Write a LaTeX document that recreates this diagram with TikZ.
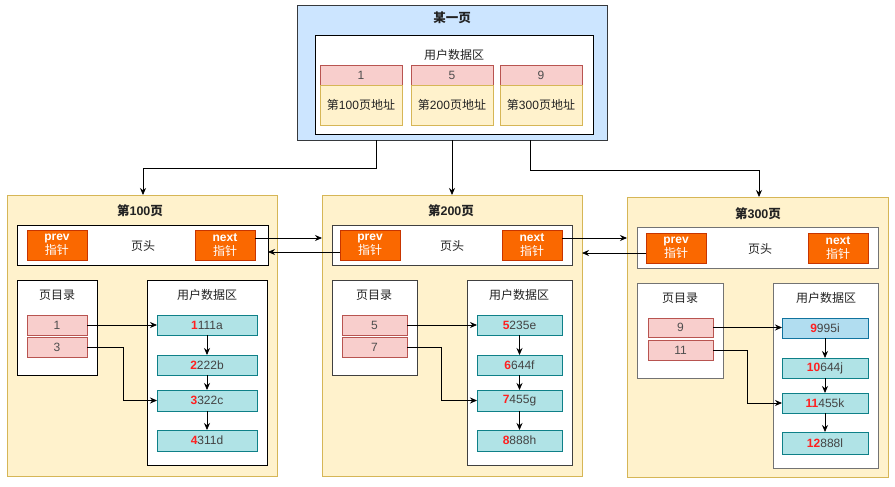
\documentclass[tikz,border=0pt]{standalone}
\usepackage{fontspec}
\setmainfont{Liberation Sans}
\newfontfamily\cjk{Noto Sans CJK SC}
\usetikzlibrary{arrows.meta,calc}
\definecolor{topfill}{HTML}{CCE5FF}
\definecolor{topdraw}{HTML}{36393D}
\definecolor{pagefill}{HTML}{FFF2CC}
\definecolor{pagedraw}{HTML}{D6B656}
\definecolor{pinkfill}{HTML}{F8CECC}
\definecolor{pinkdraw}{HTML}{B85450}
\definecolor{orangefill}{HTML}{FA6800}
\definecolor{orangedraw}{HTML}{C73500}
\definecolor{tealfill}{HTML}{B0E3E6}
\definecolor{tealdraw}{HTML}{0E8088}
\definecolor{bluefill}{HTML}{B1DDF0}
\definecolor{bluedraw}{HTML}{10739E}
\definecolor{txt}{HTML}{222222}
\definecolor{numred}{HTML}{FF2020}
\newcommand\bx[7]{\node[#6, anchor=north west, minimum width={(#4)-(#2)}, minimum height={(#5)-(#3)}] (#1) at (#2,#3) {#7};}
\newcommand\rec[2]{{\color{numred}\bfseries #1}#2}
\tikzset{
  base/.style={inner sep=0pt, outer sep=0pt, line width=0.8pt, text=txt, font=\fontsize{12}{14}\selectfont, align=center},
  topbox/.style={base, fill=topfill, draw=topdraw},
  pagebox/.style={base, fill=pagefill, draw=pagedraw},
  whitebox/.style={base, fill=white, draw=#1},
  whitebox/.default=black,
  pinkcell/.style={base, fill=pinkfill, draw=pinkdraw, text=txt!80},
  yelcell/.style={base, fill=pagefill, draw=pagedraw},
  ptr/.style={base, fill=orangefill, draw=orangedraw, text=white, font=\fontsize{12}{14}\selectfont},
  tealcell/.style={base, fill=tealfill, draw=tealdraw, text=txt!85},
  bluecell/.style={base, fill=bluefill, draw=bluedraw, text=txt!85},
  lbl/.style={inner sep=0pt, text=txt, font=\fontsize{12}{14}\selectfont\cjk},
  ttl/.style={inner sep=0pt, text=txt, font=\fontsize{12.5}{14}\selectfont\bfseries},
  arr/.style={line width=0.8pt, -{Stealth[length=7pt,width=6pt]}},
}
\begin{document}
\begin{tikzpicture}[x=1pt,y=-1pt]
\useasboundingbox (0,0) rectangle (895,487);
% top page
\bx{top}{297}{5}{607}{140}{topbox}{}
\node[ttl] at (452,18) {\cjk 某一页};
\bx{topin}{315}{35}{593}{134}{whitebox}{}
\node[lbl] at (454,55) {用户数据区};
\bx{k1}{320}{65}{402}{85}{pinkcell}{1}
\bx{a1}{320}{85}{402}{125}{yelcell}{{\cjk 第}100{\cjk 页地址}}
\bx{k5}{411}{65}{493}{85}{pinkcell}{5}
\bx{a5}{411}{85}{493}{125}{yelcell}{{\cjk 第}200{\cjk 页地址}}
\bx{k9}{500}{65}{582}{85}{pinkcell}{9}
\bx{a9}{500}{85}{582}{125}{yelcell}{{\cjk 第}300{\cjk 页地址}}

% page 100
\bx{p1}{7}{195}{277}{476}{pagebox}{}
\node[ttl] at (140,211) {{\cjk 第}100{\cjk 页}};
\bx{h1}{17}{225}{268}{265}{whitebox}{}
\node[lbl] at (143,246) {页头};
\bx{prev1}{27}{230}{87}{260}{ptr}{\textbf{prev}\\{\cjk 指针}}
\bx{next1}{195}{230}{255}{260}{ptr}{\textbf{next}\\{\cjk 指针}}
\bx{d1}{17}{280}{97}{375}{whitebox}{}
\node[lbl] at (57,295) {页目录};
\bx{e1a}{27}{315}{87}{335}{pinkcell}{1}
\bx{e1b}{27}{337}{87}{357}{pinkcell}{3}
\bx{u1}{147}{280}{267}{465}{whitebox}{}
\node[lbl] at (207,295) {用户数据区};
\bx{r1a}{157}{315}{257}{335}{tealcell}{\rec{1}{111a}}
\bx{r1b}{157}{355}{257}{375}{tealcell}{\rec{2}{222b}}
\bx{r1c}{157}{390}{257}{411}{tealcell}{\rec{3}{322c}}
\bx{r1d}{157}{430}{257}{451}{tealcell}{\rec{4}{311d}}

% page 200
\bx{p2}{322}{195}{582}{476}{pagebox}{}
\node[ttl] at (451,211) {{\cjk 第}200{\cjk 页}};
\bx{h2}{332}{225}{572}{265}{whitebox=black!75}{}
\node[lbl] at (452,246) {页头};
\bx{prev2}{340}{230}{400}{260}{ptr}{\textbf{prev}\\{\cjk 指针}}
\bx{next2}{502}{230}{562}{260}{ptr}{\textbf{next}\\{\cjk 指针}}
\bx{d2}{332}{280}{417}{375}{whitebox=black!75}{}
\node[lbl] at (374,295) {页目录};
\bx{e2a}{342}{315}{407}{335}{pinkcell}{5}
\bx{e2b}{342}{337}{407}{357}{pinkcell}{7}
\bx{u2}{467}{280}{572}{465}{whitebox=black!75}{}
\node[lbl] at (519,295) {用户数据区};
\bx{r2a}{477}{315}{562}{335}{tealcell}{\rec{5}{235e}}
\bx{r2b}{477}{355}{562}{375}{tealcell}{\rec{6}{644f}}
\bx{r2c}{477}{390}{562}{411}{tealcell}{\rec{7}{455g}}
\bx{r2d}{477}{430}{562}{451}{tealcell}{\rec{8}{888h}}

% page 300
\bx{p3}{627}{197}{888}{477}{pagebox}{}
\node[ttl] at (758,214) {{\cjk 第}300{\cjk 页}};
\bx{h3}{637}{227}{878}{268}{whitebox=black!55}{}
\node[lbl] at (760,249) {页头};
\bx{prev3}{646}{233}{706}{263}{ptr}{\textbf{prev}\\{\cjk 指针}}
\bx{next3}{808}{233}{868}{263}{ptr}{\textbf{next}\\{\cjk 指针}}
\bx{d3}{637}{283}{723}{378}{whitebox=black!55}{}
\node[lbl] at (680,298) {页目录};
\bx{e3a}{648}{318}{713}{337}{pinkcell}{9}
\bx{e3b}{648}{340}{713}{360}{pinkcell}{11}
\bx{u3}{773}{283}{878}{468}{whitebox=black!55}{}
\node[lbl] at (826,298) {用户数据区};
\bx{r3a}{782}{318}{868}{338}{bluecell}{\rec{9}{995i}}
\bx{r3b}{782}{358}{868}{378}{tealcell}{\rec{10}{644j}}
\bx{r3c}{782}{393}{868}{413}{tealcell}{\rec{11}{455k}}
\bx{r3d}{782}{432}{868}{454}{tealcell}{\rec{12}{888l}}

% top arrows
\draw[arr] ([xshift=79]top.south west) -- ++(0,28) -| ([xshift=136]p1.north west);
\draw[arr] (top.south) -- (p2.north);
\draw[arr] ([xshift=233]top.south west) -- ++(0,30) -| ([xshift=132]p3.north west);

% next / prev links
\coordinate (n1o) at ([yshift=7]next1.east);
\draw[arr] (n1o) -- (n1o -| p2.west);
\coordinate (p2o) at ([yshift=-7]prev2.west);
\draw[arr] (p2o) -- (p2o -| h1.east);
\coordinate (n2o) at ([yshift=7]next2.east);
\draw[arr] (n2o) -- (n2o -| p3.west);
\coordinate (p3o) at ([yshift=-5]prev3.west);
\draw[arr] (p3o) -- (p3o -| p2.east);

% directory links
\draw[arr] (e1a.east) -- (e1a.east -| r1a.west);
\draw[arr] (e1b.east) -- ++(36,0) |- (r1c.west);
\draw[arr] (e2a.east) -- (e2a.east -| r2a.west);
\draw[arr] (e2b.east) -- ++(34,0) |- (r2c.west);
\draw[arr] (e3a.east) -- (e3a.east -| r3a.west);
\draw[arr] (e3b.east) -- ++(34,0) |- (r3c.west);

% record chains
\foreach \p in {1,2,3}{
  \draw[arr] (r\p a.south) -- (r\p b.north);
  \draw[arr] (r\p b.south) -- (r\p c.north);
  \draw[arr] (r\p c.south) -- (r\p d.north);
}
\end{tikzpicture}
\end{document}
